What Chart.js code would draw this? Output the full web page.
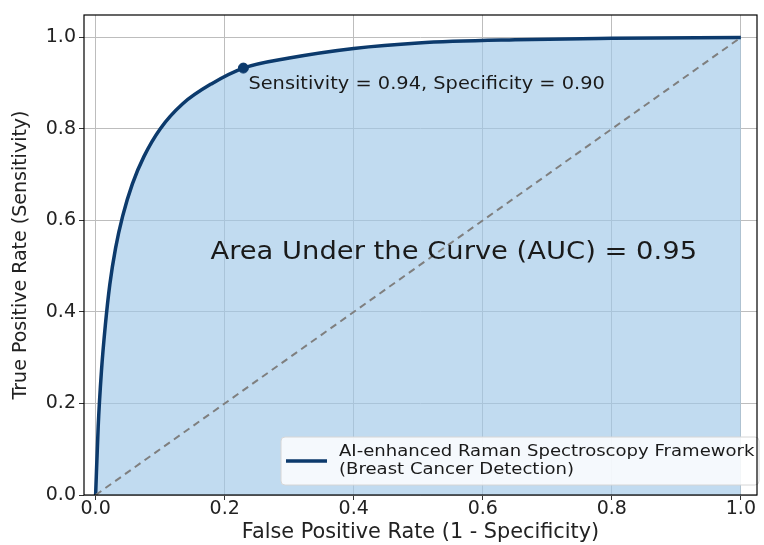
<!DOCTYPE html>
<html>
<head>
<meta charset="utf-8">
<script src="https://cdn.jsdelivr.net/npm/chart.js@4/dist/chart.umd.min.js"></script>
<style>
  body { margin: 0; background: #fff; }
  #wrap { width: 764px; height: 545px; }
</style>
</head>
<body>
<div id="wrap"><canvas id="roc"></canvas></div>
<script>
// ROC curve
const fpr = [0, 0.004, 0.009, 0.015, 0.022, 0.031, 0.042, 0.057, 0.075, 0.1, 0.135, 0.18, 0.229, 0.3, 0.4, 0.5, 0.65, 0.8, 1.0];
const tpr = [0, 0.15, 0.27, 0.37, 0.46, 0.54, 0.61, 0.68, 0.74, 0.8, 0.855, 0.899, 0.933, 0.955, 0.976, 0.988, 0.995, 0.998, 1.0];
const chance = [0, 1];
const opPoint = [0.229, 0.933];
const tickVals = [0, 0.2, 0.4, 0.6, 0.8, 1.0];
const curveLabel = ['AI-enhanced Raman Spectroscopy Framework', '(Breast Cancer Detection)'];
const aucText = 'Area Under the Curve (AUC) = 0.95';
const opText = 'Sensitivity = 0.94, Specificity = 0.90';

const FONT = '"DejaVu Sans", sans-serif';
const navy = '#0c3a6c';
const SX = 1.14; // the picture is a little wider than tall

const rocPts = fpr.map((x, i) => ({ x: x, y: tpr[i] }));

function wideText(c, txt, x, y) {
  c.save();
  c.translate(x, y);
  c.scale(SX, 1);
  c.fillText(txt, 0, 0);
  c.restore();
}

// annotations + legend + frame
const extras = {
  id: 'extras',
  afterDatasetsDraw(chart) {
    const c = chart.ctx, xs = chart.scales.x, ys = chart.scales.y, a = chart.chartArea;
    c.save();
    c.fillStyle = '#1a1a1a';
    c.textBaseline = 'middle';
    c.font = '24px ' + FONT;
    c.textAlign = 'center';
    wideText(c, aucText, xs.getPixelForValue(0.555), ys.getPixelForValue(0.53));
    c.font = '17px ' + FONT;
    c.textAlign = 'left';
    wideText(c, opText, xs.getPixelForValue(opPoint[0]) + 5, ys.getPixelForValue(opPoint[1]) + 16);

    // legend box
    const bx = 281, by = 437, bw = 478, bh = 48;
    c.fillStyle = 'rgba(255,255,255,0.85)';
    c.strokeStyle = '#d6d6d6';
    c.lineWidth = 1;
    c.beginPath();
    c.roundRect(bx, by, bw, bh, 4);
    c.fill();
    c.stroke();
    c.strokeStyle = navy;
    c.lineWidth = 3.5;
    c.beginPath();
    c.moveTo(286, 461);
    c.lineTo(327, 461);
    c.stroke();
    c.fillStyle = '#1a1a1a';
    c.font = '15.85px ' + FONT;
    wideText(c, curveLabel[0], 339, 452);
    wideText(c, curveLabel[1], 339, 470);

    // frame
    c.strokeStyle = '#000';
    c.lineWidth = 1.2;
    c.strokeRect(a.left, a.top, a.right - a.left, a.bottom - a.top);
    c.restore();
  }
};

new Chart(document.getElementById('roc'), {
  type: 'line',
  data: {
    datasets: [
      {
        data: chance.map(v => ({ x: v, y: v })),
        borderColor: '#7f7f7f',
        borderWidth: 2,
        borderDash: [7, 5],
        pointRadius: 0,
        fill: false,
        order: 2
      },
      {
        data: rocPts,
        borderColor: navy,
        backgroundColor: 'rgba(160,199,232,0.65)',
        borderWidth: 3.5,
        pointRadius: 0,
        cubicInterpolationMode: 'monotone',
        fill: 'origin',
        order: 3
      },
      {
        data: [{ x: opPoint[0], y: opPoint[1] }],
        borderColor: navy,
        backgroundColor: navy,
        pointRadius: 5,
        showLine: false,
        order: 1
      }
    ]
  },
  options: {
    responsive: true,
    maintainAspectRatio: false,
    animation: false,
    layout: { padding: { top: 15, right: 7, left: 0, bottom: 0 } },
    plugins: { legend: { display: false }, tooltip: { enabled: false } },
    scales: {
      x: {
        type: 'linear',
        min: -0.018,
        max: 1.025,
        afterBuildTicks: s => { s.ticks = tickVals.map(v => ({ value: v })); },
        afterFit: s => { s.height = 50; },
        grid: { color: '#bdbdbd', lineWidth: 1, tickLength: 5, tickColor: '#333' },
        border: { display: false },
        ticks: {
          color: '#222', padding: 0,
          font: { family: FONT, size: 19, lineHeight: 1.0 },
          callback: v => v.toFixed(1)
        },
        title: {
          display: true, text: 'False Positive Rate (1 - Specificity)',
          color: '#222', font: { family: FONT, size: 20.8, lineHeight: 1.0 }, padding: { top: 0, bottom: 1.5 }
        }
      },
      y: {
        type: 'linear',
        min: 0,
        max: 1.049,
        afterBuildTicks: s => { s.ticks = tickVals.map(v => ({ value: v })); },
        afterFit: s => { s.width = 84; },
        grid: { color: '#bdbdbd', lineWidth: 1, tickLength: 5, tickColor: '#333' },
        border: { display: false },
        ticks: {
          color: '#222', padding: 3,
          font: { family: FONT, size: 19 },
          callback: v => v.toFixed(1)
        },
        title: {
          display: true, text: 'True Positive Rate (Sensitivity)',
          color: '#222', font: { family: FONT, size: 19, lineHeight: 1.0 }, padding: { top: 12, bottom: 0 }
        }
      }
    }
  },
  plugins: [extras]
});
</script>
</body>
</html>
